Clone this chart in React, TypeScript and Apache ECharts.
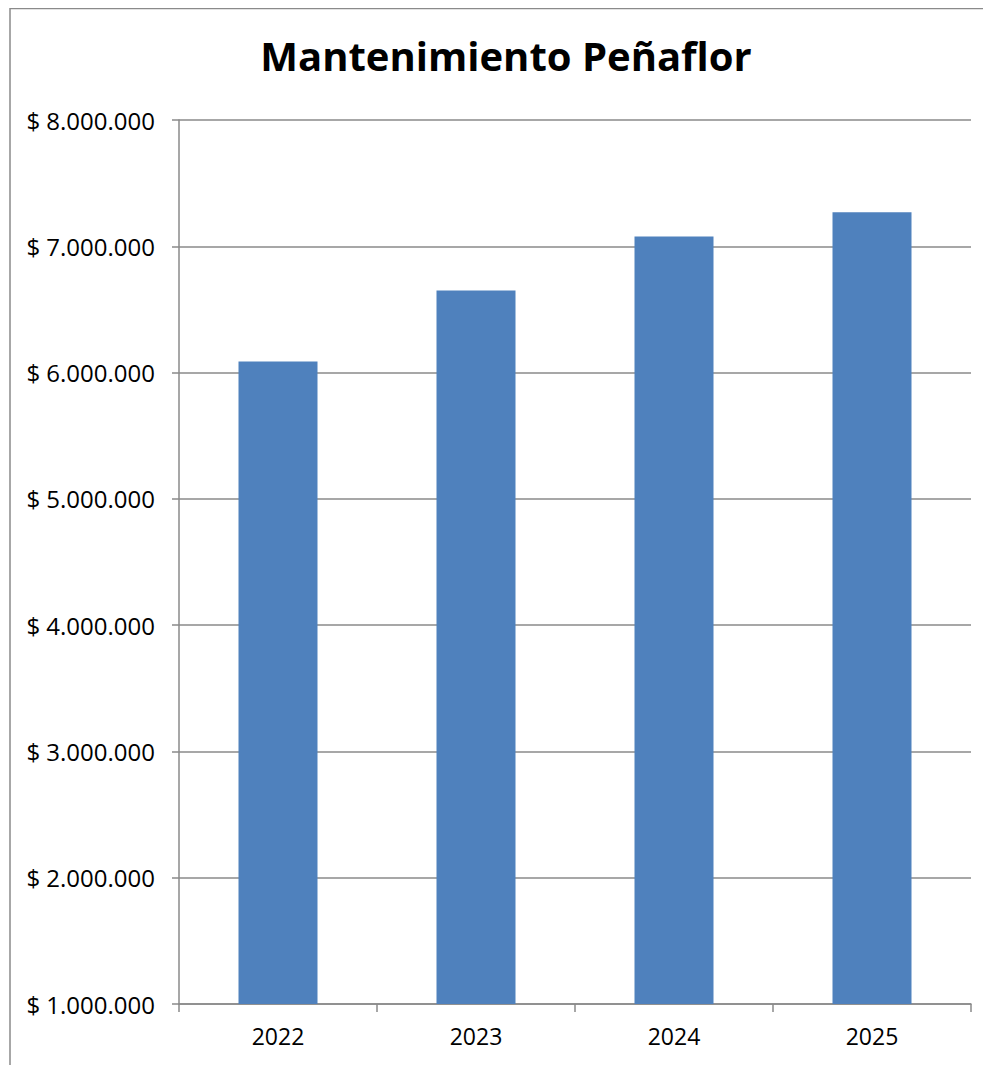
import React, { useEffect, useRef } from "react";
import * as echarts from "echarts";

const titleText = "Mantenimiento Peñaflor";
const categories = ["2022", "2023", "2024", "2025"];
const values = [6088000, 6650000, 7078000, 7270000];
const yMin = 1000000;
const yMax = 8000000;
const yStep = 1000000;

function fmt(v: number): string {
  return "$ " + String(Math.round(v)).replace(/\B(?=(\d{3})+(?!\d))/g, ".");
}

export default function App() {
  const ref = useRef<HTMLDivElement>(null);
  useEffect(() => {
    if (!ref.current) return;
    const chart = echarts.init(ref.current, undefined, { renderer: "svg" });
    const gray = "#8a8a8a";
    const font = "Open Sans";
    chart.setOption({
      animation: false,
      backgroundColor: "#ffffff",
      textStyle: { fontFamily: font },
      title: {
        text: titleText,
        left: 493,
        top: 22,
        textAlign: "center",
        textStyle: {
          fontFamily: font,
          fontWeight: "bold",
          fontSize: 40,
          color: "#000000",
        },
      },
      graphic: [
        {
          type: "line",
          shape: { x1: 2, y1: 0, x2: 2, y2: 1057 },
          style: { stroke: gray, lineWidth: 1.5 },
          silent: true,
        },
        {
          type: "line",
          shape: { x1: 2, y1: 0.5, x2: 983, y2: 0.5 },
          style: { stroke: gray, lineWidth: 1.5 },
          silent: true,
        },
      ],
      grid: { left: 171, right: 20, top: 112, bottom: 61, containLabel: false },
      xAxis: {
        type: "category",
        data: categories,
        axisLine: { show: true, lineStyle: { color: gray, width: 1.5 } },
        axisTick: { show: true, length: 8, lineStyle: { color: gray, width: 1.5 } },
        axisLabel: {
          color: "#000000",
          fontSize: 23,
          margin: 20,
          fontFamily: font,
        },
      },
      yAxis: {
        type: "value",
        min: yMin,
        max: yMax,
        interval: yStep,
        axisLine: { show: true, lineStyle: { color: gray, width: 1.5 } },
        axisTick: { show: true, length: 7, lineStyle: { color: gray, width: 1.5 } },
        splitLine: { show: true, lineStyle: { color: gray, width: 1.5 } },
        axisLabel: {
          color: "#000000",
          fontSize: 24,
          margin: 24,
          fontFamily: font,
          formatter: (v: number) => fmt(v),
        },
      },
      series: [
        {
          type: "bar",
          data: values,
          barWidth: 79,
          itemStyle: { color: "#4f81bd" },
        },
      ],
    });
    return () => chart.dispose();
  }, []);
  return <div ref={ref} style={{ width: 983, height: 1057 }} />;
}
